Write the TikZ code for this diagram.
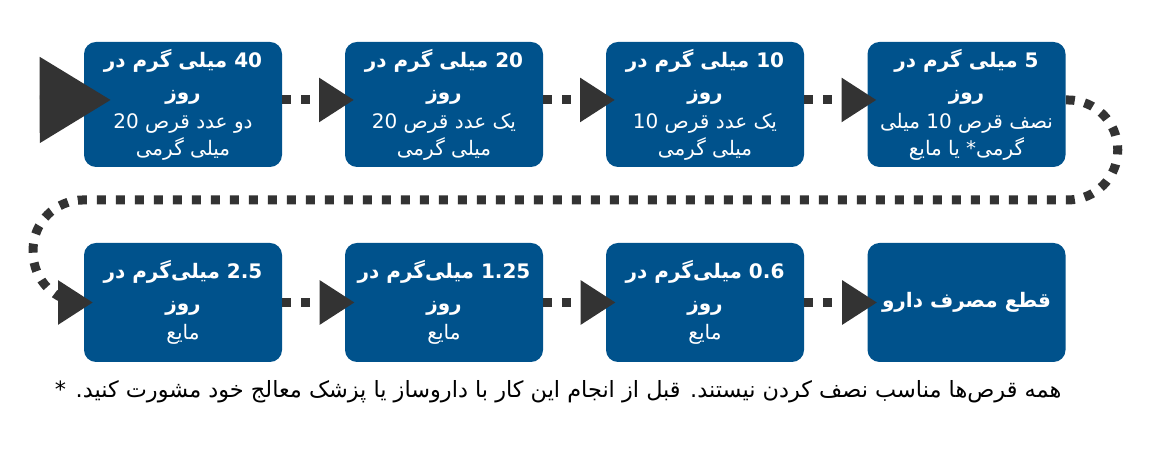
\documentclass[tikz,border=0pt]{standalone}
\usepackage{fontspec}
\usepackage{tikz}
\usetikzlibrary{arrows.meta}
\TeXXeTstate=1
\newfontfamily\arabicfont[Script=Arabic]{DejaVu Sans}
\newcommand{\rl}[1]{\beginR#1\endR}
\newcommand{\dosehead}[1]{{\fontsize{15}{20}\bfseries\rl{#1}}}
\definecolor{doseblue}{HTML}{00528C}
\definecolor{tipgray}{HTML}{333333}

\begin{document}
\begin{tikzpicture}[x=0.75pt,y=0.75pt]
      \tikzstyle{dose}=[rectangle,rounded corners=9pt,fill=doseblue,text=white,align=center,inner sep=2pt,minimum width=148.5pt,font=\arabicfont\fontsize{15}{20}\selectfont]
      \tikzstyle{hi}=[dose,minimum height=93.75pt]
      \tikzstyle{lo}=[dose,minimum height=89.25pt]
      \tikzstyle{dots}=[draw=tipgray,line width=6.75pt,dash pattern=on 6.75pt off 7.5pt,-{Triangle[length=26.25pt,width=31.5pt]}]
      \useasboundingbox (0,0) rectangle (1160,470);
      \node[hi] at (183,365.5) (b1) {\dosehead{40 میلی گرم در}\\[4pt]\dosehead{روز}\\[2pt]\rl{دو عدد قرص 20}\\\rl{میلی گرمی}};
      \node[hi] at (444,365.5) (b2) {\dosehead{20 میلی گرم در}\\[4pt]\dosehead{روز}\\[2pt]\rl{یک عدد قرص 20}\\\rl{میلی گرمی}};
      \node[hi] at (705,365.5) (b3) {\dosehead{10 میلی گرم در}\\[4pt]\dosehead{روز}\\[2pt]\rl{یک عدد قرص 10}\\\rl{میلی گرمی}};
      \node[hi] at (966.5,365.5) (b4) {\dosehead{5 میلی گرم در}\\[4pt]\dosehead{روز}\\[2pt]\rl{نصف قرص 10 میلی}\\\rl{گرمی* یا مایع}};
      \node[lo] at (183,167.5) (b5) {\dosehead{2.5 میلی‌گرم در}\\[4pt]\dosehead{روز}\\[2pt]\rl{مایع}};
      \node[lo] at (444,167.5) (b6) {\dosehead{1.25 میلی‌گرم در}\\[4pt]\dosehead{روز}\\[2pt]\rl{مایع}};
      \node[lo] at (705,167.5) (b7) {\dosehead{0.6 میلی‌گرم در}\\[4pt]\dosehead{روز}\\[2pt]\rl{مایع}};
      \node[lo] at (966.5,167.5) (b8) {\dosehead{قطع مصرف دارو}};
      \node[anchor=east,font=\arabicfont\fontsize{16.8}{20}\selectfont] at (1066,78) (note) {\rl{همه قرص‌ها مناسب نصف کردن نیستند. قبل از انجام این کار با داروساز یا پزشک معالج خود مشورت کنید. *}};
      % start of the taper
      \coordinate (entry) at (40,370);
      \draw[dots,-{Triangle[length=53.25pt,width=63pt]}] (entry) -- ([xshift=20.25pt,yshift=3.4pt]b1.west);
      \foreach \i/\j in {b1/b2,b2/b3,b3/b4}
        \draw[dots] ([yshift=3.4pt]\i.east) -- ([xshift=7pt,yshift=3.4pt]\j.west);
      \foreach \i/\j in {b5/b6,b6/b7,b7/b8}
        \draw[dots] (\i.east) -- ([xshift=7.5pt]\j.west);
      % wrap to the second row
      \draw[dots,rounded corners=37.5pt] ([yshift=3.4pt]b4.east) -- ++(52,0) -- ++(0,-100)
        -| ([xshift=-38pt]b5.west) -- ([xshift=7pt]b5.west);
    \end{tikzpicture}
\end{document}
